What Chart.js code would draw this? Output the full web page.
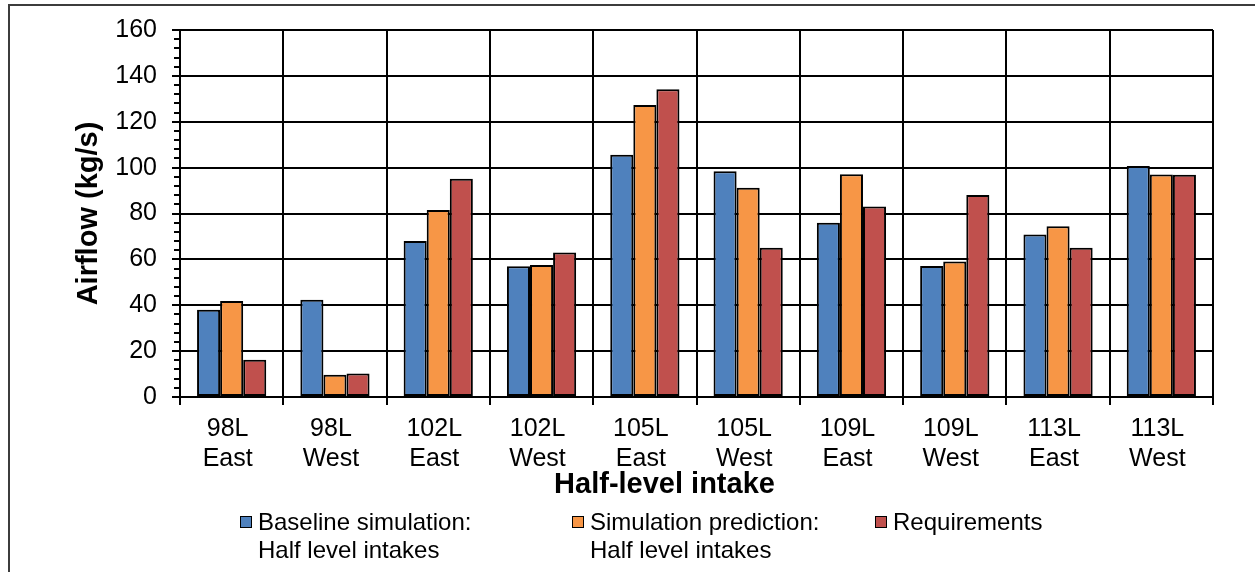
<!DOCTYPE html>
<html>
<head>
<meta charset="utf-8">
<script src="https://cdn.jsdelivr.net/npm/chart.js@4/dist/chart.umd.min.js"></script>
<style>
  html, body { margin: 0; padding: 0; background: #fff; overflow: hidden; }
  #wrap { position: relative; width: 1255px; height: 572px; font-family: 'Liberation Sans', Arial, sans-serif; }
  #frame { position: absolute; left: 8px; top: 4px; width: 1400px; height: 800px; border: 2px solid #3c3c3c; box-sizing: border-box; pointer-events: none; }
  canvas { position: absolute; left: 0; top: 0; }
  .lg-item { position: absolute; top: 508px; color: #000; font-size: 24px; line-height: 28px; white-space: nowrap; }
  .lg-box { position: absolute; left: 0; top: 8px; width: 12px; height: 12px; border: 1.5px solid #000; box-sizing: border-box; }
  .lg-text { position: absolute; left: 18px; top: 0; }
</style>
</head>
<body>
<div id="wrap">
  <div id="frame"></div>
  <canvas id="c" width="1255" height="572"></canvas>
  <div id="legend"></div>
</div>
<script>
// ---- data ----
const categories = [
  ['98L', 'East'], ['98L', 'West'], ['102L', 'East'], ['102L', 'West'], ['105L', 'East'],
  ['105L', 'West'], ['109L', 'East'], ['109L', 'West'], ['113L', 'East'], ['113L', 'West']
];
const baselineSimulation   = [38, 42.4, 68, 57, 105.6, 98.4, 76, 57.1, 70.8, 100.7];
const simulationPrediction = [41.9, 9.7, 81.5, 57.6, 127.3, 91.2, 97.1, 59.1, 74.4, 97];
const requirements         = [16.2, 10.2, 95.2, 63, 134.2, 65.1, 83.1, 88.1, 65.1, 96.9];
const seriesLabels = [
  ['Baseline simulation:', 'Half level intakes'],
  ['Simulation prediction:', 'Half level intakes'],
  ['Requirements']
];
const seriesColors = ['#4F81BD', '#F79646', '#C0504D'];
const yTitle = 'Airflow (kg/s)';
const xTitle = 'Half-level intake';
const yMin = 0, yMax = 160, yMajorStep = 20, yMinorStep = 4;

// ---- layout constants ----
const FONT = "'Liberation Sans', Arial, sans-serif";
const LEGEND_X = [240, 572, 875];

Chart.defaults.font.family = FONT;
Chart.defaults.color = '#000';

const minorTicks = {
  id: 'minorTicks',
  afterDraw(chart) {
    const s = chart.scales.y, ctx = chart.ctx;
    ctx.save();
    ctx.strokeStyle = '#000';
    ctx.lineWidth = 2;
    for (let v = yMin; v <= yMax; v += yMinorStep) {
      if (v % yMajorStep === 0) continue;
      const py = Math.round(s.getPixelForValue(v));
      ctx.beginPath();
      ctx.moveTo(s.right - 6, py);
      ctx.lineTo(s.right, py);
      ctx.stroke();
    }
    ctx.restore();
  }
};

const xAxisTitle = {
  id: 'xAxisTitle',
  afterDraw(chart) {
    const s = chart.scales.x, ctx = chart.ctx;
    ctx.save();
    ctx.font = 'bold 29px ' + FONT;
    ctx.fillStyle = '#000';
    ctx.textAlign = 'center';
    ctx.textBaseline = 'middle';
    ctx.fillText(xTitle, (s.left + s.right) / 2 - 32, s.top + 88);
    ctx.restore();
  }
};

const htmlLegend = {
  id: 'htmlLegend',
  afterUpdate(chart) {
    const el = document.getElementById('legend');
    el.innerHTML = '';
    chart.data.datasets.forEach((ds, i) => {
      const item = document.createElement('div');
      item.className = 'lg-item';
      item.style.left = LEGEND_X[i] + 'px';
      const box = document.createElement('div');
      box.className = 'lg-box';
      box.style.background = ds.backgroundColor;
      const txt = document.createElement('div');
      txt.className = 'lg-text';
      txt.innerHTML = seriesLabels[i].join('<br>');
      item.appendChild(box);
      item.appendChild(txt);
      el.appendChild(item);
    });
  }
};

const seriesData = [baselineSimulation, simulationPrediction, requirements];

new Chart(document.getElementById('c'), {
  type: 'bar',
  data: {
    labels: categories,
    datasets: seriesData.map((d, i) => ({
      label: seriesLabels[i].join(' '),
      data: d,
      backgroundColor: seriesColors[i],
      borderColor: '#000',
      borderWidth: 2,
      borderSkipped: false,
      categoryPercentage: 0.67,
      barPercentage: 1.0
    }))
  },
  options: {
    responsive: false,
    animation: false,
    devicePixelRatio: 1,
    layout: { padding: { left: 0, top: 24, right: 42, bottom: 71 } },
    plugins: {
      legend: { display: false },
      tooltip: { enabled: false }
    },
    scales: {
      x: {
        grid: { color: '#000', lineWidth: 2, offset: true, drawTicks: true, tickLength: 8, tickColor: '#000', tickWidth: 2 },
        border: { display: true, color: '#000', width: 2 },
        ticks: { font: { size: 25, lineHeight: 1.2 }, color: '#000', padding: 9, labelOffset: -4, maxRotation: 0, autoSkip: false },
        afterFit(scale) { scale.height = 104; }
      },
      y: {
        min: yMin, max: yMax,
        grid: { color: '#000', lineWidth: 2, tickLength: 8, tickColor: '#000', tickWidth: 2 },
        border: { display: true, color: '#000', width: 2 },
        ticks: { stepSize: yMajorStep, font: { size: 25 }, color: '#000', padding: 15 },
        title: { display: true, text: yTitle, font: { size: 29, weight: 'bold' }, color: '#000', padding: { top: 72, bottom: 0 } },
        afterFit(scale) { scale.width = 180; }
      }
    }
  },
  plugins: [minorTicks, xAxisTitle, htmlLegend]
});
</script>
</body>
</html>
